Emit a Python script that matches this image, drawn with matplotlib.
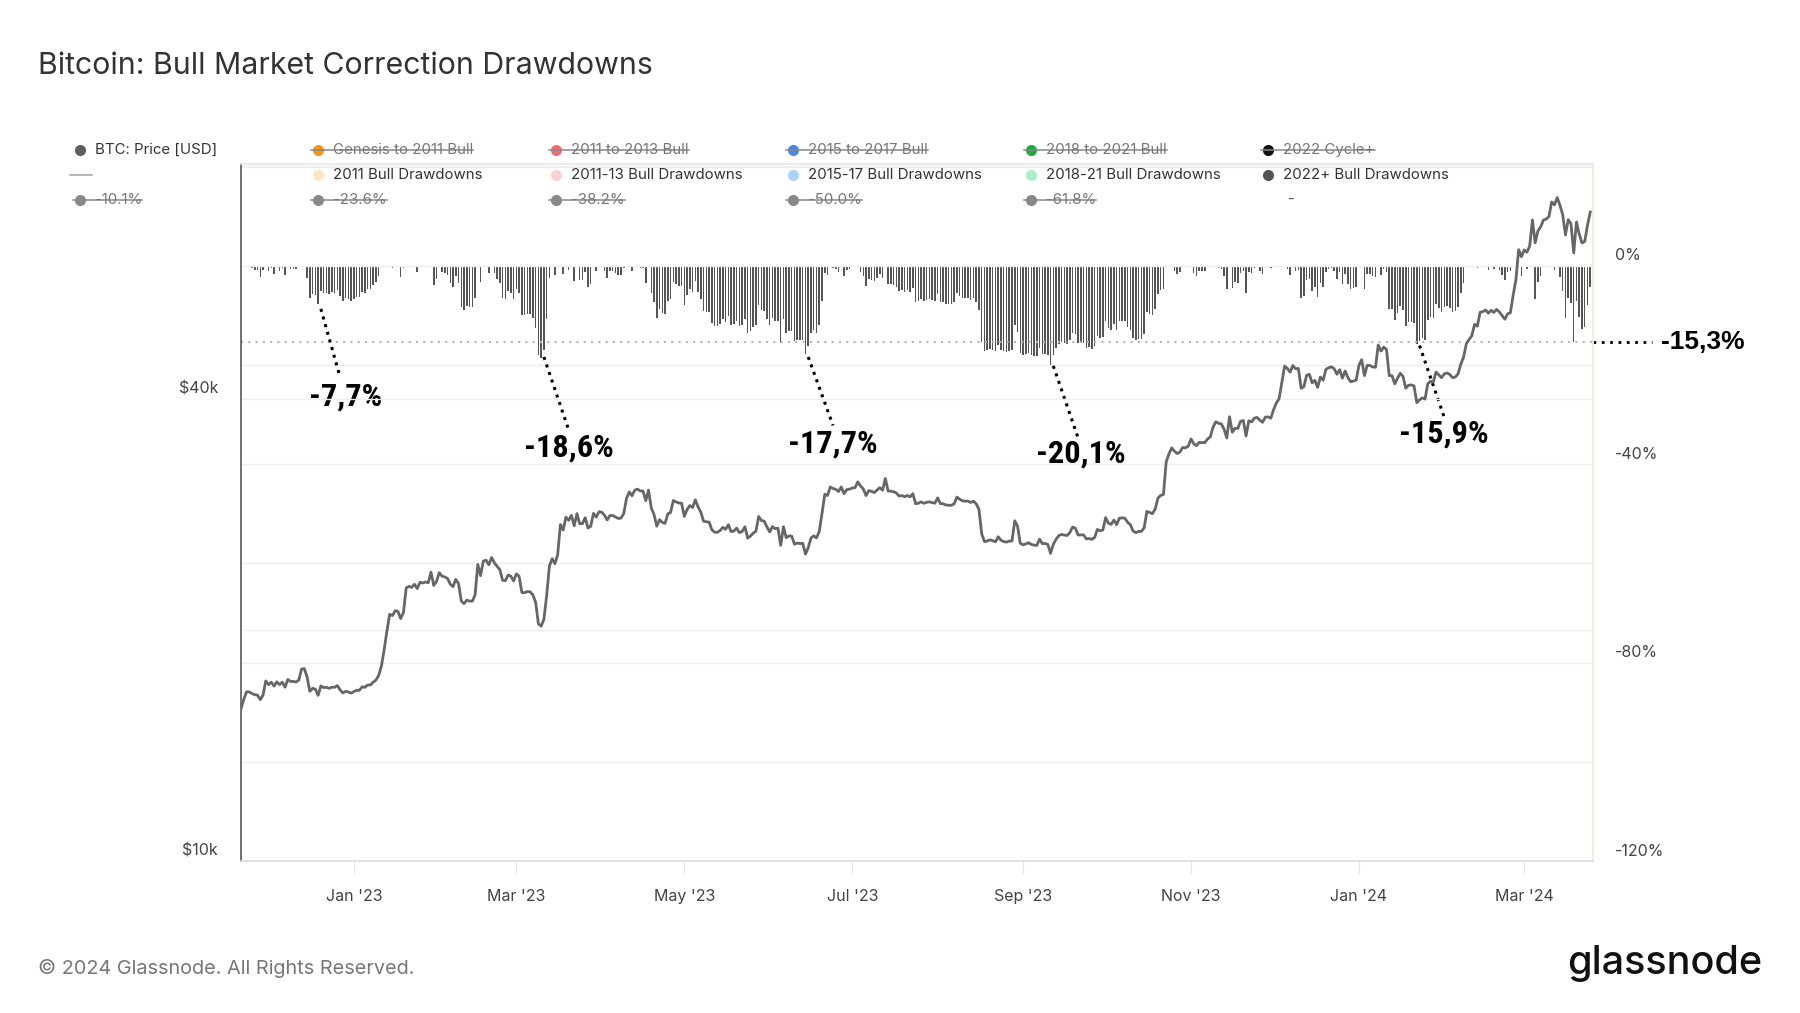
# Bitcoin: Bull Market Correction Drawdowns (glassnode style)

import pandas as pd
import matplotlib
matplotlib.use("Agg")
import matplotlib.pyplot as plt
import matplotlib.dates as mdates
import matplotlib.transforms as mtransforms
from matplotlib.lines import Line2D
from matplotlib.ticker import NullLocator

plt.rcParams['font.family'] = ['Inter', 'DejaVu Sans']

# ==============================
# DATA (daily close, USD)
# ==============================
START = "2022-11-21"
btc_price = [
    # Nov 2022 (21-30)
    15780, 16230, 16600, 16600, 16520, 16460, 16440, 16220, 16440, 17160,
    # Dec 2022
    16970, 17090, 16890, 17110, 16970, 17090, 16840, 17230, 17130, 17130,
    17100, 17200, 17780, 17800, 17360, 16630, 16780, 16740, 16430, 16900,
    16820, 16830, 16780, 16840, 16830, 16920, 16700, 16550, 16630, 16600, 16540,
    # Jan 2023
    16620, 16680, 16680, 16860, 16830, 16950, 16950, 17090, 17200, 17440,
    17940, 18850, 19930, 20950, 20870, 21180, 21130, 20680, 21070, 22670,
    22780, 22710, 22920, 22630, 23060, 23010, 23080, 23030, 23770, 22840, 23130,
    # Feb 2023
    23730, 23490, 23430, 23330, 22930, 22760, 23260, 22960, 21800, 21630,
    21860, 21790, 21790, 22200, 24330, 23520, 24570, 24640, 24300, 24840,
    24450, 24190, 23950, 23200, 23170, 23560, 23490, 23150,
    # Mar 2023
    23650, 23480, 22360, 22350, 22430, 22410, 22200, 21720, 20360, 20220,
    20630, 22160, 24200, 24750, 24380, 25050, 27420, 26970, 28040, 27770,
    28180, 27310, 28330, 27490, 27490, 27990, 27140, 27270, 28350, 28030, 28480,
    # Apr 2023
    28460, 28200, 27800, 28170, 28170, 28040, 27920, 27950, 28330, 29650,
    30230, 29890, 30400, 30490, 30320, 30320, 29450, 30400, 28820, 28250,
    27280, 27820, 27590, 27510, 28310, 28420, 29470, 29340, 29250, 29230,
    # May 2023
    28090, 28680, 29030, 28850, 29530, 28900, 28450, 27690, 27650, 27620,
    26990, 26800, 26780, 26930, 27190, 27030, 27400, 26830, 26890, 27120,
    26760, 26850, 27230, 26330, 26480, 26720, 26870, 28090, 27750, 27700, 27220,
    # Jun 2023
    26820, 27250, 27080, 27120, 25760, 27240, 26350, 26500, 26480, 25850,
    25940, 25900, 25920, 25090, 25580, 26330, 26510, 26340, 26850, 28330,
    30030, 29910, 30690, 30550, 30470, 30270, 30690, 30080, 30450, 30480,
    # Jul 2023
    30590, 30620, 31160, 30770, 30510, 29900, 30350, 30290, 30170, 30410,
    30620, 30390, 31480, 30320, 30300, 30250, 30140, 29860, 29910, 29800,
    29910, 29790, 30080, 29180, 29230, 29350, 29220, 29310, 29350, 29280, 29230,
    # Aug 2023
    29700, 29190, 29180, 29070, 29050, 29040, 29180, 29770, 29580, 29440,
    29400, 29420, 29290, 29410, 29170, 28700, 26660, 26050, 26100, 26190,
    26120, 26040, 26430, 26160, 26050, 26010, 26090, 26100, 27730, 27300, 25930,
    # Sep 2023
    25800, 25870, 25970, 25830, 25780, 25750, 26240, 25900, 25900, 25840,
    25150, 25840, 26230, 26530, 26610, 26570, 26530, 26760, 27210, 27130,
    26570, 26580, 26580, 26260, 26300, 26220, 26370, 27020, 26910, 26970,
    # Oct 2023
    27990, 27530, 27430, 27790, 27410, 27950, 27970, 27940, 27600, 27390,
    26880, 26760, 26860, 26860, 27160, 28520, 28420, 28330, 28720, 29680,
    29920, 30000, 33090, 33900, 34500, 34160, 33910, 34090, 34540, 34500, 34670,
    # Nov 2023
    35440, 34940, 34730, 35080, 35050, 35050, 35420, 35650, 36700, 37310,
    37140, 37070, 36500, 35540, 37880, 36150, 36600, 36570, 37360, 37450,
    35760, 37420, 37290, 37720, 37800, 37480, 37250, 37830, 37860, 37710,
    # Dec 2023
    38690, 39470, 39980, 41980, 44080, 43780, 43290, 44170, 43730, 43790,
    41250, 41450, 42890, 43020, 41930, 42240, 41360, 42660, 42260, 43650,
    43870, 43990, 43740, 43020, 43610, 42520, 43440, 42580, 42070, 42140, 42280,
    # Jan 2024
    44180, 44940, 42850, 44180, 44160, 43970, 43930, 46970, 46120, 46660,
    46340, 42850, 42840, 41800, 42510, 43150, 42740, 41260, 41620, 41670,
    41550, 39510, 39850, 40080, 39940, 41820, 42120, 42030, 43300, 42950, 42580,
    # Feb 2024
    43080, 43190, 42990, 42580, 42660, 43090, 44340, 45290, 47130, 47750,
    48290, 49960, 49700, 51800, 51910, 52160, 51660, 52120, 51780, 52260,
    51840, 51300, 50730, 51570, 51730, 54520, 57090, 62500, 61200,
    # Mar 2024 (1-25)
    62440, 62030, 63170, 68330, 63800, 66110, 66930, 68300, 68500, 69020,
    72120, 71480, 73080, 71400, 69400, 65320, 68390, 67550, 61910, 67910,
    65490, 63780, 64060, 67240, 69960,
]

# drawdown labels
dd_labels = ["-7,7%", "-18,6%", "-17,7%", "-20,1%", "-15,9%"]
dd_tip_dates = ["2022-12-20", "2023-03-11", "2023-06-15", "2023-09-12", "2024-01-23"]
dd_tip_vals = [-8.7, -18.4, -18.4, -20.2, -16.1]
dd_end_dates = ["2022-12-27", "2023-03-20", "2023-06-24", "2023-09-21", "2024-02-01"]
dd_end_vals = [-22.5, -33.1, -32.2, -34.7, -30.6]
dd_text_dates = ["2022-12-29", "2023-03-20", "2023-06-24", "2023-09-22", "2024-02-01"]
dd_text_vals = [-26.4, -36.6, -35.9, -37.9, -33.8]
current_dd = -15.3
current_dd_label = "-15,3%"

# legend
legend_row1 = ["BTC: Price [USD]", "Genesis to 2011 Bull", "2011 to 2013 Bull",
               "2015 to 2017 Bull", "2018 to 2021 Bull", "2022 Cycle+"]
legend_row1_colors = ["#5e5e5e", "#f7931a", "#ef6b73", "#4a86e8", "#23a83f", "#111111"]
legend_row2 = ["", "2011 Bull Drawdowns", "2011-13 Bull Drawdowns", "2015-17 Bull Drawdowns",
               "2018-21 Bull Drawdowns", "2022+ Bull Drawdowns"]
legend_row2_colors = ["#aaaaaa", "#fde3c8", "#fcd0d2", "#acd4fa", "#a9efca", "#555555"]
legend_row3 = ["-10.1%", "-23.6%", "-38.2%", "-50.0%", "-61.8%"]

# ==============================
# SERIES
# ==============================
s = pd.Series(btc_price, index=pd.date_range(START, periods=len(btc_price), freq="D"), dtype=float)
drawdown = (s / s.cummax() - 1) * 100

# ==============================
# FIGURE
# ==============================
W, H = 1800, 1013
fig = plt.figure(figsize=(18, 10.13), dpi=100)
fig.patch.set_facecolor("white")

ax = fig.add_axes([241 / W, 1 - 861 / H, (1593 - 241) / W, (861 - 164) / H])
ax2 = ax.twinx()
ax.set_zorder(ax2.get_zorder() + 1)
ax.patch.set_visible(False)

# drawdown bars (right axis)
ax2.bar(s.index, drawdown.values, width=0.55, color="#555555", linewidth=0)
ax2.set_ylim(-120, 20.5)
ax2.set_yticks(range(-120, 21, 20))
ax2.grid(axis="y", color="#eeeeee", linewidth=1)
ax2.tick_params(axis="y", length=0, labelright=False)
for sp in ax2.spines.values():
    sp.set_visible(False)

# price line (left axis, log)
ax.plot(s.index, s.values, color="#666666", linewidth=2.0, solid_joinstyle="round")
ax.set_yscale("log")
ax.set_ylim(10000, 80800)
ax.set_yticks([10000, 20000, 40000, 80000])
ax.yaxis.set_minor_locator(NullLocator())
ax.grid(axis="y", color="#eeeeee", linewidth=1)
ax.tick_params(axis="y", length=0, labelleft=False, which="both")

ax.set_xlim(pd.Timestamp("2022-11-21"), pd.Timestamp("2024-03-26"))
ax.xaxis.set_major_locator(mdates.MonthLocator(bymonth=[1, 3, 5, 7, 9, 11]))
ax.xaxis.set_major_formatter(mdates.DateFormatter("%b '%y"))
ax.tick_params(axis="x", length=9, color="#e6e6e6", labelsize=11.5, labelcolor="#444444", pad=11.5)

ax.spines["left"].set_color("#666666")
ax.spines["left"].set_linewidth(1.3)
ax.spines["top"].set_color("#e8e8e8")
ax.spines["bottom"].set_color("#dddddd")
ax.spines["right"].set_color("#fde7d2")
for k in ["top", "bottom", "right"]:
    ax.spines[k].set_linewidth(1.2)

# axis labels (drawn slightly above their grid lines)
for val, lab in zip([10000, 40000], ["$10k", "$40k"]):
    ax.annotate(lab, xy=(-0.017, val), xycoords=("axes fraction", "data"),
                xytext=(0, 10), textcoords="offset pixels", ha="right", va="center",
                fontsize=11.5, color="#444444", annotation_clip=False)
for val in [0, -40, -80, -120]:
    ax2.annotate(f"{val}%", xy=(1.0163, val), xycoords=("axes fraction", "data"),
                 xytext=(0, 10), textcoords="offset pixels", ha="left", va="center",
                 fontsize=11.5, color="#444444", annotation_clip=False)

# current drawdown level
ax2.axhline(current_dd, color="#b5b5b5", linestyle=(0, (1, 2.5)), linewidth=1.5)
trans = mtransforms.blended_transform_factory(ax2.transAxes, ax2.transData)
ax2.plot([1.0, 1.044], [current_dd, current_dd], transform=trans, clip_on=False,
         color="black", linestyle=(0, (1, 2)), linewidth=2)
ax2.text(1.0503, current_dd, current_dd_label, transform=trans, ha="left", va="center",
         fontsize=19, fontweight="bold", family=["Liberation Sans", "DejaVu Sans"])

# drawdown call-outs
for lab, td, tv, ed, ev, xd, xv in zip(dd_labels, dd_tip_dates, dd_tip_vals, dd_end_dates,
                                       dd_end_vals, dd_text_dates, dd_text_vals):
    ax2.plot([pd.Timestamp(td), pd.Timestamp(ed)], [tv, ev], color="black",
             linestyle=(0, (1, 1.6)), linewidth=2.2, zorder=5)
    ax2.text(pd.Timestamp(xd), xv, lab, ha="center", va="center", fontsize=23.3,
             fontweight="bold", fontstretch="condensed",
             family=["Roboto Condensed", "DejaVu Sans"], zorder=6)

# ==============================
# TITLE / FOOTER
# ==============================
fig.text(38 / W, 1 - 66 / H, "Bitcoin: Bull Market Correction Drawdowns",
         fontsize=21.8, color="#333333", va="center", ha="left")
fig.text(38 / W, 1 - 968 / H, "\u00a9 2024 Glassnode. All Rights Reserved.",
         fontsize=14.3, color="#777777", va="center", ha="left")
fig.text(1762 / W, 1 - 963 / H, "glassnode", fontsize=28.5, color="#111111",
         fontweight="medium", va="center", ha="right")

# ==============================
# LEGEND (manual, hidden series struck through)
# ==============================
col_x = [80, 318, 556, 793, 1031, 1268]
row_y = [150, 175, 200]
TX = 15
struck = []


def marker(x, y, color):
    fig.add_artist(Line2D([x / W], [1 - y / H], marker="o", markersize=8, color=color,
                          markeredgewidth=0, transform=fig.transFigure))


for i, (lab, c) in enumerate(zip(legend_row1, legend_row1_colors)):
    marker(col_x[i], row_y[0], c)
    t = fig.text((col_x[i] + TX) / W, 1 - row_y[0] / H, lab, fontsize=10.8,
                 color="#333333" if i == 0 else "#777777", va="center", ha="left")
    if i > 0:
        struck.append((col_x[i], row_y[0], t))

fig.add_artist(Line2D([(col_x[0] - 10) / W, (col_x[0] + 12) / W], [1 - row_y[1] / H] * 2,
                      color="#aaaaaa", linewidth=1.2, transform=fig.transFigure))
for i in range(1, 6):
    marker(col_x[i], row_y[1], legend_row2_colors[i])
    fig.text((col_x[i] + TX) / W, 1 - row_y[1] / H, legend_row2[i], fontsize=10.8,
             color="#333333", va="center", ha="left")

for i, lab in enumerate(legend_row3):
    marker(col_x[i], row_y[2], "#888888")
    t = fig.text((col_x[i] + TX) / W, 1 - row_y[2] / H, lab, fontsize=10.8,
                 color="#777777", va="center", ha="left")
    struck.append((col_x[i], row_y[2], t))
fig.text((col_x[5] + 20) / W, 1 - row_y[2] / H, "-", fontsize=10.8, color="#555555",
         va="center", ha="left")

fig.canvas.draw()
renderer = fig.canvas.get_renderer()
for x, y, t in struck:
    bb = t.get_window_extent(renderer)
    fig.add_artist(Line2D([(x - 7) / W, bb.x1 / W], [1 - y / H] * 2, color="#888888",
                          linewidth=1.1, transform=fig.transFigure))

plt.savefig("out.png", dpi=100)
plt.close()
